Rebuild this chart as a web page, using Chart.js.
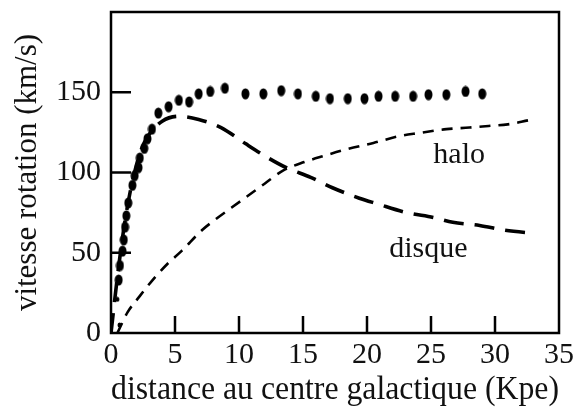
<!DOCTYPE html>
<html>
<head>
<meta charset="utf-8">
<title>vitesse rotation</title>
<script src="https://cdn.jsdelivr.net/npm/chart.js@4/dist/chart.umd.min.js"></script>
<style>
  html, body { margin: 0; padding: 0; background: #fff; }
  #wrap { width: 579px; height: 414px; }
</style>
</head>
<body>
<div id="wrap"><canvas id="rot" width="579" height="414"></canvas></div>
<script>
// ---- data ----
// observed rotation (big dots)
const obsX = [0.66, 0.5, 0.6, 0.7, 0.9, 1.0, 1.1, 1.2, 1.35, 1.67, 1.85, 2.15, 2.25, 2.6, 2.85, 3.2, 3.7, 4.5, 5.3, 6.1, 6.85, 7.75, 8.9, 10.5, 11.9, 13.3, 14.6, 16.0, 17.1, 18.5, 19.8, 20.9, 22.2, 23.6, 24.8, 26.2, 27.7, 29.0];
const obsY = [5, 21, 33, 42, 51, 58, 66, 73, 81, 92, 98, 103, 109, 115, 121, 127, 137, 141, 145, 144, 149, 150.5, 152.5, 149, 149, 151, 149, 147.5, 146, 146, 146, 147.5, 147.5, 147.5, 148.5, 148.5, 150.5, 149];

// disque (long dashes)
const diskX = [0, 0.5, 1, 1.5, 2, 2.5, 3, 4, 5.3, 6.85, 8.6, 10.5, 12.3, 13.7, 15.6, 17.3, 19.4, 20.8, 23.1, 25.2, 26.7, 28.8, 30.8, 33.2];
const diskY = [0, 35, 65, 88, 105, 117, 124, 132, 135, 133, 128, 118, 109, 103, 97, 90.5, 84, 80.5, 75, 72, 69, 67, 64, 62];

// halo (short dashes)
const haloX = [0.5, 1.3, 2.2, 3.25, 4.4, 5.5, 7.1, 8.2, 9.4, 10.7, 12, 13.4, 15.1, 16.7, 18.5, 20.5, 22.6, 24.1, 26.2, 28, 29.5, 31, 32.6];
const haloY = [0, 13, 22.5, 33, 43, 51, 64, 71, 78, 85.5, 93, 101, 106.5, 110.5, 114.7, 118.4, 122.8, 124.6, 127, 128, 129, 130, 132.5];

// axes
const xTicks = [0, 5, 10, 15, 20, 25, 30, 35];
const yTicks = [0, 50, 100, 150];
const xTitle = 'distance au centre galactique (Kpe)';
const yTitle = 'vitesse rotation (km/s)';

// curve names written inside the plot
const curveNames = [
  { text: 'halo', x: 27.2, y: 111 },
  { text: 'disque', x: 24.8, y: 52 }
];

const SERIF = '"Liberation Serif", "DejaVu Serif", serif';

function pairs(xs, ys) {
  return xs.map((x, i) => ({ x: x, y: ys[i] }));
}

// slightly tall ink blot like the scanned dots
function makeDot(w, h) {
  const c = document.createElement('canvas');
  c.width = w; c.height = h;
  const g = c.getContext('2d');
  g.fillStyle = '#000';
  g.beginPath();
  g.ellipse(w / 2, h / 2, w / 2 - 0.5, h / 2 - 0.5, 0, 0, Math.PI * 2);
  g.fill();
  return c;
}
const bigDot = makeDot(9, 12);
const smallDot = makeDot(5, 6);

// frame, inward ticks and curve names
const framePlugin = {
  id: 'framePlugin',
  beforeDatasetsDraw(chart) {
    const { ctx, chartArea: a, scales: { x, y } } = chart;
    ctx.save();
    ctx.strokeStyle = '#000';
    ctx.lineWidth = 2.5;
    ctx.strokeRect(a.left, a.top, a.right - a.left, a.bottom - a.top);

    ctx.beginPath();
    x.ticks.forEach(t => {
      if (t.value <= x.min || t.value >= x.max) return;
      const px = x.getPixelForValue(t.value);
      ctx.moveTo(px, a.bottom);
      ctx.lineTo(px, a.bottom - 17);
    });
    y.ticks.forEach(t => {
      if (t.value <= y.min || t.value >= y.max) return;
      const py = y.getPixelForValue(t.value);
      ctx.moveTo(a.left, py);
      ctx.lineTo(a.left + 20, py);
    });
    ctx.stroke();

    ctx.fillStyle = '#111';
    ctx.font = '30px ' + SERIF;
    ctx.textAlign = 'center';
    ctx.textBaseline = 'middle';
    curveNames.forEach(n => {
      ctx.fillText(n.text, x.getPixelForValue(n.x), y.getPixelForValue(n.y));
    });
    ctx.restore();
  }
};

new Chart(document.getElementById('rot'), {
  type: 'scatter',
  data: {
    datasets: [
      {
        label: 'halo',
        data: pairs(haloX, haloY),
        showLine: true,
        borderColor: '#000',
        borderWidth: 2.6,
        borderDash: [11, 8],
        pointRadius: 0,
        cubicInterpolationMode: 'monotone'
      },
      {
        label: 'disque',
        data: pairs(diskX, diskY),
        showLine: true,
        borderColor: '#000',
        borderWidth: 3.6,
        borderDash: [20, 11],
        pointRadius: 0,
        cubicInterpolationMode: 'monotone'
      },
      {
        label: 'observé',
        data: pairs(obsX, obsY),
        showLine: false,
        pointStyle: c => (c.raw && c.raw.y < 30 ? smallDot : bigDot),
        pointRadius: 5
      }
    ]
  },
  options: {
    responsive: false,
    animation: false,
    layout: { padding: { top: 12, right: 20, left: 0, bottom: 0 } },
    plugins: {
      legend: { display: false },
      tooltip: { enabled: false }
    },
    scales: {
      x: {
        type: 'linear',
        min: 0,
        max: 35,
        afterBuildTicks: s => { s.ticks = xTicks.map(v => ({ value: v })); },
        afterFit: s => { s.height = 81; s.paddingLeft = 0; s.paddingRight = 0; },
        grid: { display: false, drawTicks: false },
        border: { display: false },
        ticks: {
          color: '#111',
          padding: 6,
          maxRotation: 0,
          font: { family: SERIF, size: 30, lineHeight: 1.1 }
        },
        title: {
          display: true,
          text: xTitle,
          color: '#111',
          padding: { top: 0, bottom: 7 },
          font: { family: SERIF, size: 33, lineHeight: 1 }
        }
      },
      y: {
        type: 'linear',
        min: 0,
        max: 200,
        afterBuildTicks: s => { s.ticks = yTicks.map(v => ({ value: v })); },
        afterFit: s => { s.width = 111; s.paddingTop = 0; s.paddingBottom = 0; },
        grid: { display: false, drawTicks: false },
        border: { display: false },
        ticks: {
          color: '#111',
          padding: 10,
          font: { family: SERIF, size: 30, lineHeight: 1.1 }
        },
        title: {
          display: true,
          text: yTitle,
          color: '#111',
          padding: { top: 12, bottom: 0 },
          font: { family: SERIF, size: 31, lineHeight: 1 }
        }
      }
    }
  },
  plugins: [framePlugin]
});
</script>
</body>
</html>
